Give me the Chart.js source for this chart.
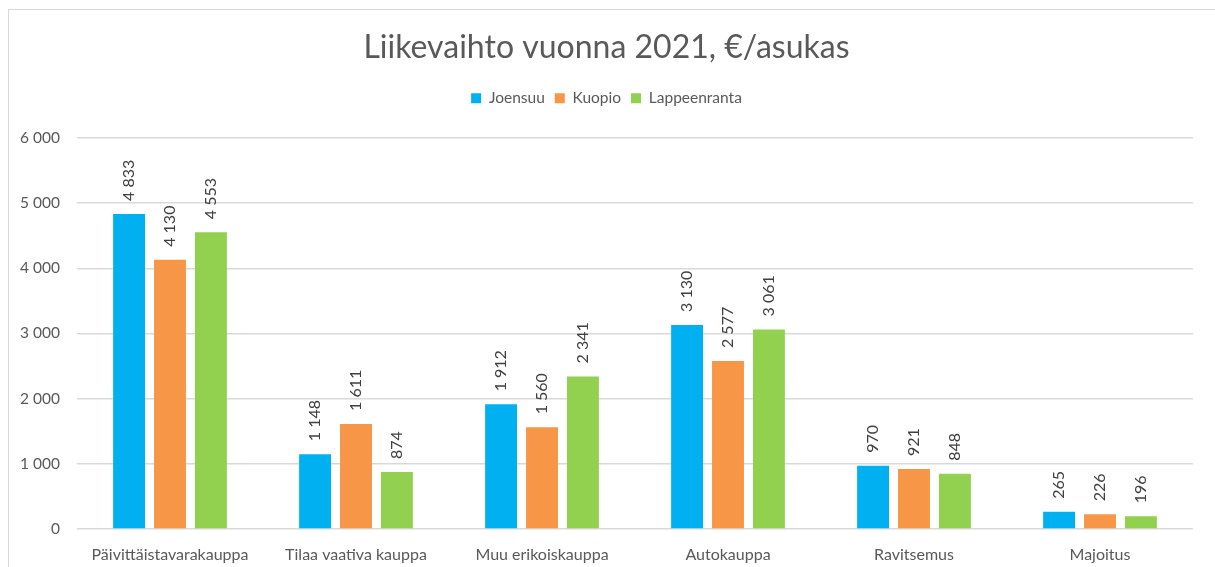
<!DOCTYPE html>
<html>
<head>
<meta charset="utf-8">
<script src="https://cdn.jsdelivr.net/npm/chart.js@4/dist/chart.umd.min.js"></script>
<style>
  body { margin: 0; background: #fff; overflow: hidden; }
  #wrap { position: relative; width: 1215px; height: 567px; }
  #frame { position: absolute; left: 8px; top: 9px; width: 1230px; height: 600px;
           border: 1px solid #d9d9d9; pointer-events: none; }
</style>
</head>
<body>
<div id="wrap">
  <canvas id="chart-area" width="1215" height="567"></canvas>
  <div id="frame"></div>
</div>
<script>
var categories = ['Päivittäistavarakauppa', 'Tilaa vaativa kauppa', 'Muu erikoiskauppa', 'Autokauppa', 'Ravitsemus', 'Majoitus'];
var joensuu = [4833, 1148, 1912, 3130, 970, 265];
var kuopio = [4130, 1611, 1560, 2577, 921, 226];
var lappeenranta = [4553, 874, 2341, 3061, 848, 196];
var yTicks = [0, 1000, 2000, 3000, 4000, 5000, 6000];

var fontName = 'Lato, Calibri, sans-serif';

// thousands with a space, e.g. 4 833
function fmt(v) {
  return String(v).replace(/\B(?=(\d{3})+(?!\d))/g, ' ');
}

// value labels standing upright above each bar
var barLabels = {
  id: 'barLabels',
  afterDatasetsDraw: function(chart) {
    var ctx = chart.ctx;
    ctx.save();
    ctx.font = '16px ' + fontName;
    ctx.fillStyle = '#404040';
    ctx.textAlign = 'left';
    ctx.textBaseline = 'middle';
    chart.data.datasets.forEach(function(ds, i) {
      chart.getDatasetMeta(i).data.forEach(function(bar, j) {
        ctx.save();
        ctx.translate(bar.x, bar.y - 13);
        ctx.rotate(-Math.PI / 2);
        ctx.fillText(fmt(ds.data[j]), 0, 0);
        ctx.restore();
      });
    });
    ctx.restore();
  }
};

// extra room between the legend and the plot
var legendGap = {
  id: 'legendGap',
  beforeInit: function(chart) {
    var fit = chart.legend.fit;
    chart.legend.fit = function() {
      fit.bind(chart.legend)();
      this.height += 22;
    };
  }
};

var config = {
  type: 'bar',
  data: {
    labels: categories,
    datasets: [
      { label: 'Joensuu', data: joensuu, backgroundColor: '#00b0f0' },
      { label: 'Kuopio', data: kuopio, backgroundColor: '#f79646' },
      { label: 'Lappeenranta', data: lappeenranta, backgroundColor: '#92d050' }
    ]
  },
  options: {
    responsive: false,
    animation: false,
    categoryPercentage: 0.66,
    barPercentage: 0.78,
    layout: { padding: { left: 20, right: 22, top: 0, bottom: 0 } },
    plugins: {
      title: {
        display: true,
        text: 'Liikevaihto vuonna 2021, €/asukas',
        color: '#595959',
        font: { family: fontName, size: 32, weight: 'normal' },
        padding: { top: 28, bottom: 14 }
      },
      legend: {
        position: 'top',
        labels: {
          color: '#595959',
          font: { family: fontName, size: 15.5 },
          boxWidth: 10,
          boxHeight: 10,
          padding: 10
        }
      },
      tooltip: { enabled: false }
    },
    scales: {
      x: {
        grid: { display: false },
        border: { display: false },
        afterFit: function(axis) { axis.height = 38; },
        ticks: { color: '#595959', font: { family: fontName, size: 16 }, padding: 8 }
      },
      y: {
        min: 0,
        max: 6000,
        afterBuildTicks: function(axis) {
          axis.ticks = yTicks.map(function(v) { return { value: v }; });
        },
        afterFit: function(axis) { axis.width = 57; },
        grid: { color: '#d9d9d9', lineWidth: 1.5, drawTicks: false },
        border: { display: false },
        ticks: {
          color: '#595959',
          font: { family: fontName, size: 15.5 },
          padding: 17,
          callback: function(v) { return fmt(v); }
        }
      }
    }
  },
  plugins: [barLabels, legendGap]
};

var ctx = document.getElementById('chart-area').getContext('2d');
window.myBar = new Chart(ctx, config);
</script>
</body>
</html>
